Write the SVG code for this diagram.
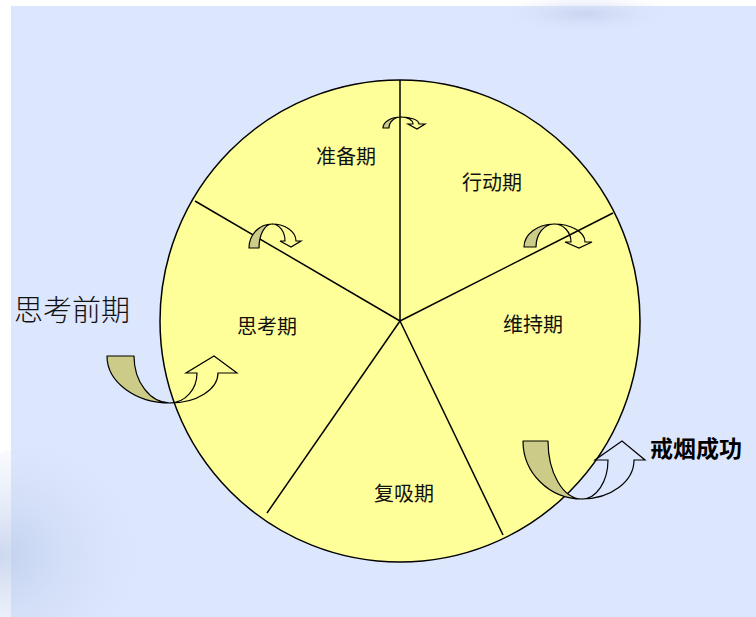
<svg xmlns="http://www.w3.org/2000/svg" width="756" height="617" viewBox="0 0 756 617">
<style>
.lbl{font-family:"Noto Sans CJK SC","Noto Sans",sans-serif;font-size:20px;fill:#111;text-anchor:middle;dominant-baseline:central}
.line{stroke:#000;stroke-width:1.5;fill:none}
.front{fill:#cccc88;stroke:#000;stroke-width:1.2;stroke-linejoin:round}
.back{fill:none;stroke:#000;stroke-width:1.2;stroke-linejoin:miter}
</style>
<defs>
<radialGradient id="tr" cx="0.5" cy="0.5" r="0.5">
<stop offset="0" stop-color="#c4cbea" stop-opacity="0.7"/>
<stop offset="1" stop-color="#dbe5fb" stop-opacity="0"/>
</radialGradient>
<radialGradient id="bl" cx="0.3" cy="0.5" r="0.6">
<stop offset="0" stop-color="#b6c7e8" stop-opacity="0.7"/>
<stop offset="1" stop-color="#dbe5fb" stop-opacity="0"/>
</radialGradient>
</defs>
<rect width="756" height="617" fill="#ffffff"/>
<rect x="11" y="6" width="745" height="611" fill="#dce6fc"/>
<ellipse cx="585" cy="14" rx="90" ry="20" fill="url(#tr)"/>
<ellipse cx="50" cy="555" rx="130" ry="110" fill="url(#bl)"/>
<g id="wheel">
<ellipse cx="400" cy="321" rx="240" ry="241" fill="#ffff99" stroke="#000" stroke-width="1.5"/>
</g>
<g id="connectors">
<line class="line" x1="400" y1="321" x2="400" y2="80"/>
<line class="line" x1="400" y1="321" x2="195" y2="201"/>
<line class="line" x1="400" y1="321" x2="613" y2="213"/>
<line class="line" x1="400" y1="321" x2="267" y2="513"/>
<line class="line" x1="400" y1="321" x2="503" y2="535"/>
</g>
<g id="arrow-top">
<path class="front" d="M383,128 A18,11 0 0 1 401,117 A12,11 0 0 0 389,128 Z"/>
<path class="back" d="M401,117 A18,7 0 0 1 419,124 L425,124 L417,129 L408,124 L413,124 A12,7 0 0 0 401,117 Z"/>
</g>
<g id="arrow-left">
<path class="front" d="M249,248 A23,24 0 0 1 272,224 A13,24 0 0 0 259,248 Z"/>
<path class="back" d="M272,224 A24,17 0 0 1 296,241 L301,241 L291,247 L280,241 L285,241 A13,17 0 0 0 272,224 Z"/>
</g>
<g id="arrow-right">
<path class="front" d="M524,247 A30,23 0 0 1 554,224 A18,23 0 0 0 536,247 Z"/>
<path class="back" d="M554,224 A31,18 0 0 1 585,242 L592,242 L579,248 L565,242 L571,242 A17,18 0 0 0 554,224 Z"/>
</g>
<g id="arrow-enter">
<path class="front" d="M107,356 L134,356 A36,47 0 0 0 170,403 A63,47 0 0 1 107,356 Z"/>
<path class="back" d="M170,403 A48,30 0 0 0 218,373 L237,373 L214,356 L186,373 L197,373 A27,30 0 0 1 170,403 Z"/>
</g>
<g id="arrow-exit">
<path class="front" d="M523,441 L548,441 A34,58 0 0 0 582,499 A59,58 0 0 1 523,441 Z"/>
<path class="back" d="M582,499 A52,39 0 0 0 634,460 L645,460 L622,441 L595,460 L608,460 A26,39 0 0 1 582,499 Z"/>
</g>
<g id="node-prep"><text class="lbl" x="346" y="155">准备期</text></g>
<g id="node-action"><text class="lbl" x="492" y="181">行动期</text></g>
<g id="node-think"><text class="lbl" x="267" y="325">思考期</text></g>
<g id="node-maintain"><text class="lbl" x="533" y="323">维持期</text></g>
<g id="node-relapse"><text class="lbl" x="404" y="492">复吸期</text></g>
<g id="node-precontemplation"><text x="72" y="308" style="font-family:'Noto Sans CJK SC','Noto Sans',sans-serif;font-size:29px;fill:#111;text-anchor:middle;dominant-baseline:central;font-weight:300">思考前期</text></g>
<g id="node-success"><text x="696" y="447" style="font-family:'Noto Sans CJK SC','Noto Sans',sans-serif;font-size:23px;fill:#000;text-anchor:middle;dominant-baseline:central;font-weight:bold">戒烟成功</text></g>
</svg>
